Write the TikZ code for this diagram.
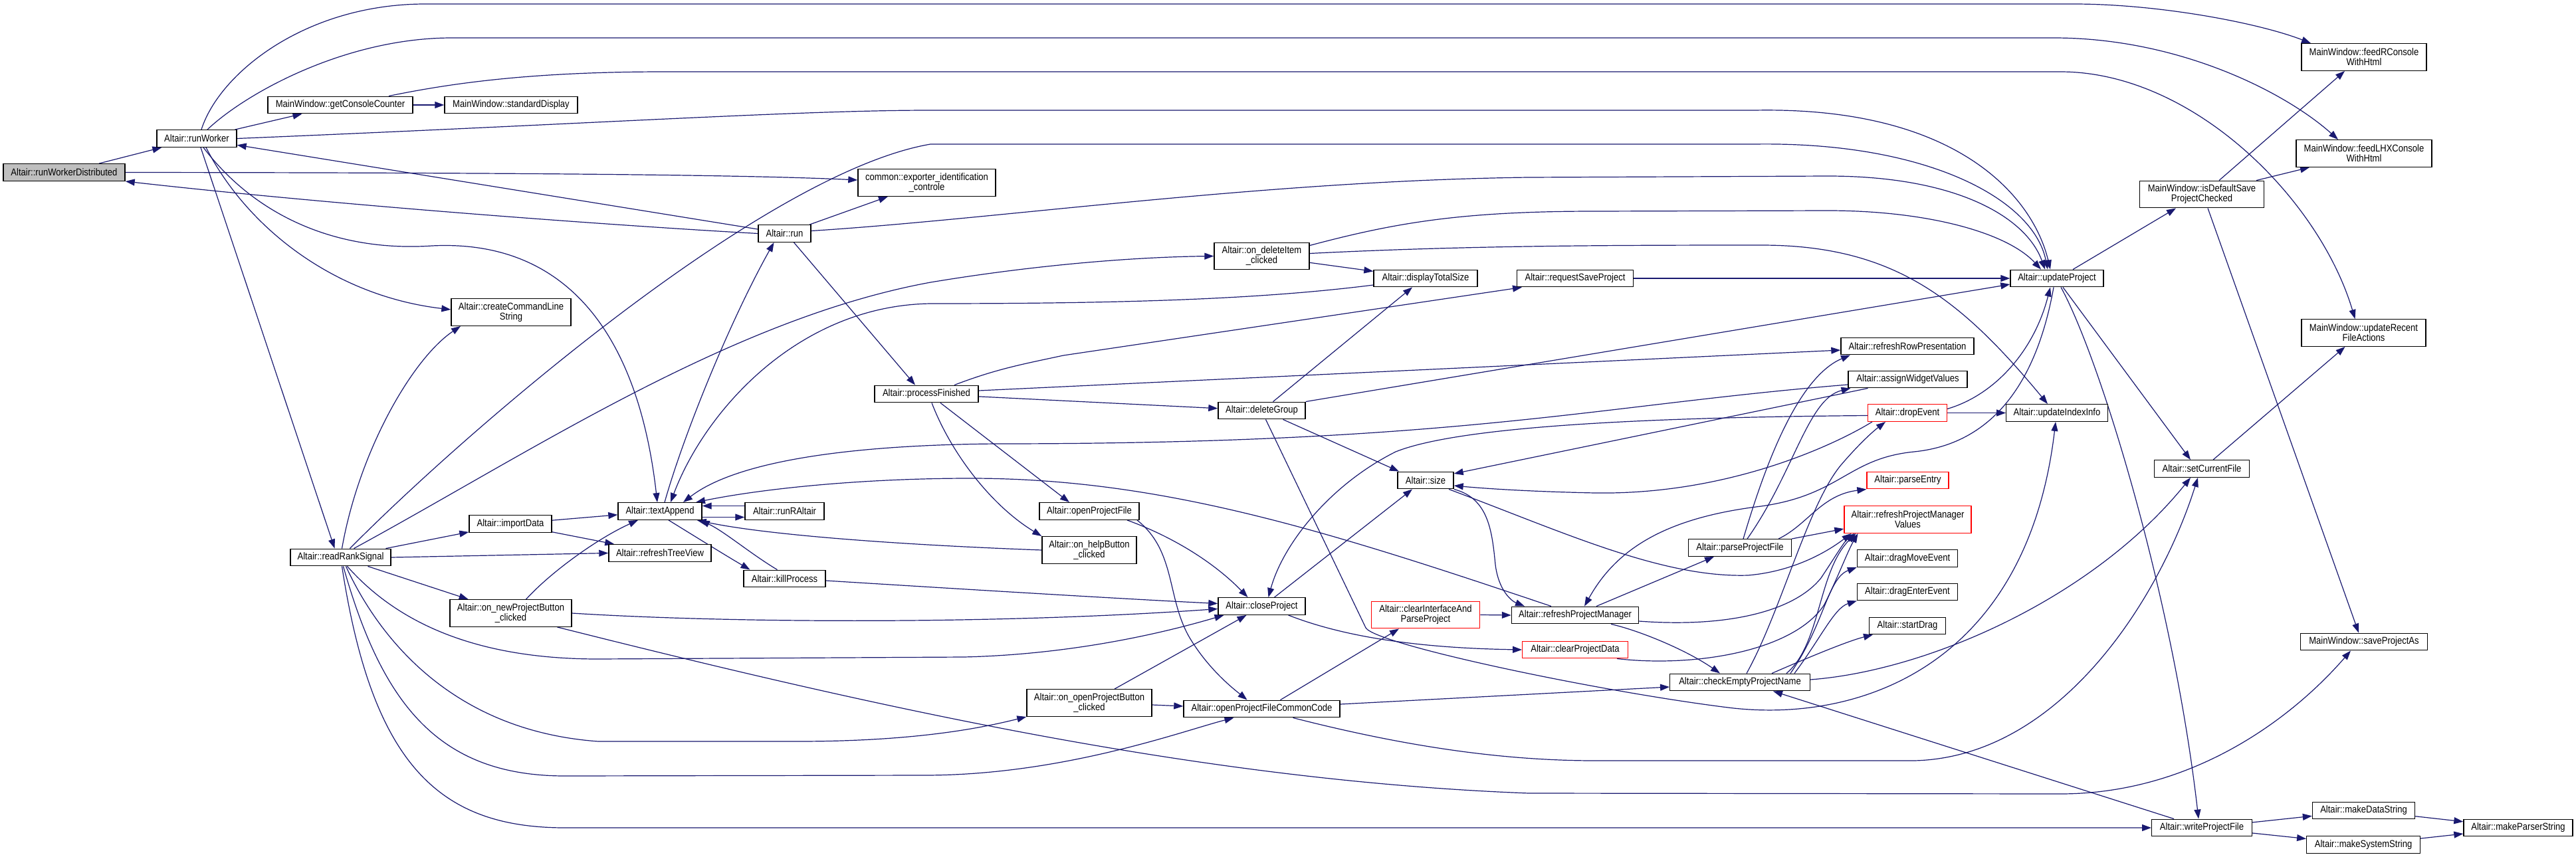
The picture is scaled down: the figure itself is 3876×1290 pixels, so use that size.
\documentclass[tikz,border=0pt]{standalone}
\usepackage{fontspec}
\setmainfont{Liberation Sans}[FakeStretch=0.87]
\usetikzlibrary{arrows.meta}
\definecolor{eblue}{HTML}{191970}
\definecolor{rootgray}{HTML}{BFBFBF}
\pgfdeclarelayer{background}
\pgfsetlayers{background,main}
\begin{document}
\begin{tikzpicture}[x=1pt,y=-1pt,
  box/.style={draw=black, fill=white, line width=1.4pt, inner sep=0pt, minimum height=25.5pt, align=center,
    font=\fontsize{15}{15}\selectfont},
  box2/.style={box, minimum height=40.5pt},
  redbox/.style={draw=red},
  cg/.style={draw=eblue, line width=1.2pt, -{Triangle[length=14pt,width=10pt]}}]
\useasboundingbox (0,0) rectangle (3876,1290);
% ---------- nodes ----------
\node[box, minimum width=183pt, fill=rootgray] (rWD) at (96.5,259.5) {Altair::runWorkerDistributed};
\node[box, minimum width=120pt] (rW) at (296,208.5) {Altair::runWorker};
\node[box, minimum width=218pt] (gCC) at (512,158) {MainWindow::getConsoleCounter};
\node[box, minimum width=200pt] (sD) at (769,158) {MainWindow::standardDisplay};
\node[box2, minimum width=180pt] (cCL) at (769,470) {Altair::createCommandLine\\String};
\node[box, minimum width=151pt] (rRS) at (512.5,839) {Altair::readRankSignal};
\node[box, minimum width=124pt] (importData) at (768,788.5) {Altair::importData};
\node[box2, minimum width=183pt] (onNewPB) at (768.5,923) {Altair::on\_newProjectButton\\\_clicked};
\node[box, minimum width=126pt] (textAppend) at (993,769.5) {Altair::textAppend};
\node[box, minimum width=154pt] (refreshTreeView) at (993,832.5) {Altair::refreshTreeView};
\node[box2, minimum width=207pt] (exporter) at (1394.5,275) {common::exporter\_identification\\\_controle};
\node[box, minimum width=79pt] (run) at (1180.5,351.5) {Altair::run};
\node[box, minimum width=119pt] (runRAltair) at (1180.5,769.5) {Altair::runRAltair};
\node[box, minimum width=123pt] (killProcess) at (1180.5,871) {Altair::killProcess};
\node[box, minimum width=156pt] (processFinished) at (1394,593) {Altair::processFinished};
\node[box, minimum width=150pt] (openProjectFile) at (1639,769.5) {Altair::openProjectFile};
\node[box2, minimum width=142pt] (onHelp) at (1639,828) {Altair::on\_helpButton\\\_clicked};
\node[box2, minimum width=188pt] (onOpenPB) at (1639,1058) {Altair::on\_openProjectButton\\\_clicked};
\node[box2, minimum width=143pt] (onDelete) at (1898.5,385.5) {Altair::on\_deleteItem\\\_clicked};
\node[box, minimum width=131pt] (deleteGroup) at (1898.5,618) {Altair::deleteGroup};
\node[box, minimum width=131pt] (closeProject) at (1898.5,912.5) {Altair::closeProject};
\node[box, minimum width=235pt] (oPFCC) at (1898.5,1067) {Altair::openProjectFileCommonCode};
\node[box, minimum width=156pt] (displayTotalSize) at (2145,419) {Altair::displayTotalSize};
\node[box, minimum width=84pt] (size) at (2145,723) {Altair::size};
\node[box2, redbox, minimum width=163.5pt] (cIAPP) at (2145,925.5) {Altair::clearInterfaceAnd\\ParseProject};
\node[box, minimum width=174.5pt] (requestSaveProject) at (2370,419) {Altair::requestSaveProject};
\node[box, minimum width=191pt] (rPM) at (2370,926) {Altair::refreshProjectManager};
\node[box, redbox, minimum width=158.5pt] (cPD) at (2370,978) {Altair::clearProjectData};
\node[box, minimum width=154.5pt] (pPF) at (2618,824.5) {Altair::parseProjectFile};
\node[box, minimum width=210.5pt] (cEPN) at (2618,1027) {Altair::checkEmptyProjectName};
\node[box, minimum width=200pt] (rRP) at (2870,521) {Altair::refreshRowPresentation};
\node[box, minimum width=179pt] (aWV) at (2870.5,571) {Altair::assignWidgetValues};
\node[box, redbox, minimum width=118.5pt] (dropEvent) at (2870,621.5) {Altair::dropEvent};
\node[box, redbox, minimum width=123pt] (parseEntry) at (2870.5,723) {Altair::parseEntry};
\node[box2, redbox, minimum width=191pt] (rPMV) at (2870.5,782) {Altair::refreshProjectManager\\Values};
\node[box, minimum width=151pt] (dME) at (2870,840.5) {Altair::dragMoveEvent};
\node[box, minimum width=151pt] (dEE) at (2870,891) {Altair::dragEnterEvent};
\node[box, minimum width=115pt] (startDrag) at (2870,942) {Altair::startDrag};
\node[box, minimum width=140pt] (updateProject) at (3095,419) {Altair::updateProject};
\node[box, minimum width=152.5pt] (updateIndexInfo) at (3095,621.5) {Altair::updateIndexInfo};
\node[box2, minimum width=187pt] (isDefaultSave) at (3313,292.5) {MainWindow::isDefaultSave\\ProjectChecked};
\node[box, minimum width=143pt] (setCurrentFile) at (3313,705.5) {Altair::setCurrentFile};
\node[box, minimum width=150.5pt] (writeProjectFile) at (3313,1246) {Altair::writeProjectFile};
\node[box2, minimum width=188pt] (feedR) at (3557,86) {MainWindow::feedRConsole\\WithHtml};
\node[box2, minimum width=204pt] (feedLHX) at (3557,231) {MainWindow::feedLHXConsole\\WithHtml};
\node[box2, minimum width=187pt] (updateRecent) at (3556.5,501) {MainWindow::updateRecent\\FileActions};
\node[box, minimum width=190.5pt] (saveProjectAs) at (3557,966) {MainWindow::saveProjectAs};
\node[box, minimum width=154pt] (mDS) at (3556.5,1220) {Altair::makeDataString};
\node[box, minimum width=170.5pt] (mSS) at (3556,1271.5) {Altair::makeSystemString};
\node[box, minimum width=164pt] (mPS) at (3789,1246) {Altair::makeParserString};
% ---------- edges ----------
\begin{pgfonlayer}{background}
\fill[white] (0,0) rectangle (3876,1290);
\draw[cg] (rWD) -- (rW);
\draw[cg] (rWD.east) .. controls (700,260) and (1100,262) .. ([yshift=4pt]exporter.west);
\draw[cg] (run.west) .. controls (900,338) and (500,308) .. (rWD.south east);
\draw[cg] (run) -- (rW);
\draw[cg] (rW) -- (gCC);
\draw[cg] (gCC) -- (sD);
\draw[cg] ([xshift=7pt]rW.north) .. controls (330,110) and (460,6) .. (640,6) -- (3120,6) .. controls (3250,6) and (3400,35) .. ([xshift=-80pt]feedR.north);
\draw[cg] ([xshift=16pt]rW.north) .. controls (370,140) and (520,57) .. (680,57) -- (3090,57) .. controls (3280,57) and (3440,140) .. ([xshift=-39pt]feedLHX.north);
\draw[cg] ([xshift=73pt]gCC.north) .. controls (680,125) and (800,108) .. (1000,108) -- (3100,108) .. controls (3300,108) and (3490,300) .. ([xshift=-13pt]updateRecent.north);
\draw[cg] (rW.east) .. controls (900,186) and (1200,166) .. (1400,166) -- (2640,166) .. controls (2950,160) and (3060,300) .. ([xshift=-10pt]updateProject.north);
\draw[cg] ([xshift=10pt]rW.south) .. controls (380,320) and (500,380) .. (650,370) .. controls (850,360) and (960,500) .. ([xshift=-4pt]textAppend.north);
\draw[cg] ([xshift=14pt]rW.south) .. controls (370,340) and (500,445) .. ([yshift=4pt]cCL.west);
\draw[cg] ([xshift=6pt]rW.south) -- ([xshift=-9pt]rRS.north);
\draw[cg] (run) -- (exporter);
\draw[cg] ([yshift=4pt]run.east) .. controls (1500,330) and (1900,272) .. (2300,267) -- (2750,265) .. controls (2950,265) and (3050,330) .. ([xshift=-18pt]updateProject.north);
\draw[cg] ([xshift=14pt]rRS.north) .. controls (700,650) and (1150,260) .. (1400,217) -- (2640,217) .. controls (2900,213) and (3060,300) .. ([xshift=-14pt]updateProject.north);
\draw[cg] ([xshift=2pt]rRS.north) .. controls (540,680) and (620,540) .. ([xshift=-76pt]cCL.south);
\draw[cg] ([xshift=20pt]rRS.north) .. controls (800,680) and (1100,480) .. (1400,425) .. controls (1550,400) and (1700,387) .. (onDelete.west);
\draw[cg] (rRS) -- (importData);
\draw[cg] (rRS.east) -- (refreshTreeView.west);
\draw[cg] (rRS) -- (onNewPB);
\draw[cg] ([xshift=10pt]rRS.south) .. controls (600,940) and (720,992) .. (900,992) -- (1450,989) .. controls (1620,985) and (1760,950) .. ([xshift=-57pt]closeProject.south);
\draw[cg] ([xshift=8pt]rRS.south) .. controls (570,960) and (680,1100) .. (900,1116) -- (1200,1116) .. controls (1380,1116) and (1480,1095) .. (onOpenPB.south west);
\draw[cg] ([xshift=4pt]rRS.south) .. controls (575,1060) and (660,1168) .. (850,1168) -- (1390,1167) .. controls (1600,1167) and (1780,1100) .. ([xshift=-42pt]oPFCC.south);
\draw[cg] ([xshift=2pt]rRS.south) .. controls (560,1150) and (660,1246) .. (850,1246) -- (writeProjectFile.west);
\draw[cg] (importData) -- (textAppend);
\draw[cg] (importData) -- (refreshTreeView);
\draw[cg] ([xshift=23pt]onNewPB.north) .. controls (830,860) and (900,810) .. ([xshift=-33pt]textAppend.south);
\draw[cg] (onNewPB.east) .. controls (1100,938) and (1500,940) .. ([yshift=-4pt]closeProject.west);
\draw[cg] ([xshift=70pt]onNewPB.south) .. controls (1300,1060) and (1800,1175) .. (2300,1194) -- (3100,1195) .. controls (3300,1195) and (3450,1080) .. ([xshift=-20pt]saveProjectAs.south);
\draw[cg] ([xshift=7pt]textAppend.north) .. controls (1030,650) and (1100,480) .. ([xshift=-16pt]run.south);
\draw[cg] ([yshift=-10pt]displayTotalSize.west) .. controls (1900,450) and (1700,457) .. (1400,457) .. controls (1200,460) and (1060,620) .. ([xshift=16pt]textAppend.north);
\draw[cg] ([yshift=-8pt]aWV.west) .. controls (2400,610) and (2200,668) .. (1500,668) .. controls (1250,670) and (1100,700) .. ([xshift=35pt]textAppend.north);
\draw[cg] ([xshift=-36pt]rPM.north) .. controls (2000,800) and (1750,720) .. (1460,720) .. controls (1300,720) and (1150,735) .. ([xshift=54pt]textAppend.north);
\draw[cg] ([yshift=8pt]runRAltair.west) -- ([yshift=8pt]textAppend.east);
\draw[cg] ([yshift=-9pt]textAppend.east) -- ([yshift=-9pt]runRAltair.west);
\draw[cg] ([xshift=13pt]textAppend.south) .. controls (1050,810) and (1090,835) .. ([xshift=-52pt]killProcess.north);
\draw[cg] ([xshift=-11pt]killProcess.north) .. controls (1130,834) and (1090,800) .. ([xshift=-3pt]textAppend.south east);
\draw[cg] (onHelp.west) .. controls (1350,820) and (1150,805) .. ([xshift=-8pt]textAppend.south east);
\draw[cg] ([yshift=-3pt]killProcess.east) .. controls (1500,890) and (1700,902) .. ([yshift=4pt]closeProject.west);
\draw[cg] ([xshift=42pt]processFinished.north) .. controls (1500,555) and (1540,548) .. (1600,535) -- ([xshift=-80pt]requestSaveProject.south);
\draw[cg] ([yshift=5pt]processFinished.east) -- ([yshift=-6pt]rRP.west);
\draw[cg] (processFinished) -- (deleteGroup);
\draw[cg] ([xshift=21pt]processFinished.south) -- ([xshift=-30pt]openProjectFile.north);
\draw[cg] ([xshift=8pt]processFinished.south) .. controls (1430,680) and (1490,760) .. (onHelp.north west);
\draw[cg] ([xshift=14pt]run.south) -- ([xshift=-17pt]processFinished.north);
\draw[cg] (onDelete) -- (displayTotalSize);
\draw[cg] ([yshift=16pt]onDelete.east) .. controls (2100,335) and (2200,318) .. (2400,318) -- (2750,317) .. controls (2900,317) and (3020,350) .. ([xshift=-24pt]updateProject.north);
\draw[cg] ([yshift=4pt]onDelete.east) .. controls (2200,370) and (2400,369) .. (2650,369) .. controls (2850,369) and (2950,450) .. ([xshift=-14pt]updateIndexInfo.north);
\draw[cg] (requestSaveProject.east) -- (updateProject.west);
\draw[cg] ([xshift=17pt]deleteGroup.north) -- ([xshift=-20pt]displayTotalSize.south);
\draw[cg] (deleteGroup.north east) -- ([yshift=-9pt]updateProject.west);
\draw[cg] ([xshift=32pt]deleteGroup.south) -- ([xshift=-40pt]size.north);
\draw[cg] ([xshift=6pt]deleteGroup.south) -- (2055,945) .. controls (2070,970) and (2400,1040) .. (2600,1065) .. controls (2800,1090) and (3050,1000) .. ([xshift=-2pt]updateIndexInfo.south);
\draw[cg] ([xshift=19pt]closeProject.north) -- ([xshift=-20pt]size.south);
\draw[cg] ([xshift=40pt]closeProject.south) .. controls (2000,950) and (2100,975) .. (cPD.west);
\draw[cg] ([yshift=-4pt]dropEvent.west) .. controls (2500,628) and (2200,640) .. (2100,680) .. controls (2000,730) and (1930,820) .. ([xshift=10pt]closeProject.north);
\draw[cg] ([xshift=-53pt]dropEvent.south) .. controls (2760,670) and (2600,745) .. (2400,742) .. controls (2300,740) and (2230,735) .. ([yshift=-8pt]size.east);
\draw[cg] ([xshift=-60pt]aWV.south) -- ([yshift=10pt]size.east);
\draw[cg] (dropEvent.east) -- (updateIndexInfo.west);
\draw[cg] ([yshift=6pt]dropEvent.east) .. controls (3000,595) and (3060,530) .. ([xshift=-10pt]updateProject.south);
\draw[cg] ([xshift=-5pt]updateProject.south) .. controls (3060,600) and (2980,670) .. (2880,680) .. controls (2780,690) and (2770,745) .. (2650,762) .. controls (2500,780) and (2430,830) .. ([xshift=14pt]rPM.north);
\draw[cg] (size.south east) .. controls (2240,750) and (2245,800) .. (2250,850) .. controls (2255,890) and (2275,905) .. ([xshift=-76pt]rPM.north);
\draw[cg] ([xshift=35pt]size.south) .. controls (2350,800) and (2500,870) .. (2630,866) .. controls (2700,860) and (2750,830) .. ([xshift=-85pt]rPMV.south);
\draw[cg] (cIAPP.east) -- (rPM.west);
\draw[cg] ([xshift=28pt]oPFCC.north) -- ([xshift=-40pt]cIAPP.south);
\draw[cg] ([yshift=7pt]oPFCC.east) -- ([yshift=-7pt]cEPN.west);
\draw[cg] ([xshift=47pt]oPFCC.south) .. controls (2100,1120) and (2250,1145) .. (2400,1145) -- (2880,1145) .. controls (3100,1140) and (3250,900) .. ([xshift=-6pt]setCurrentFile.south);
\draw[cg] ([xshift=57pt]openProjectFile.south) .. controls (1770,810) and (1830,850) .. ([xshift=-21pt]closeProject.north);
\draw[cg] ([xshift=72pt]openProjectFile.south) .. controls (1770,830) and (1755,900) .. (1790,960) .. controls (1820,1010) and (1860,1040) .. ([xshift=-22pt]oPFCC.north);
\draw[cg] ([xshift=38pt]onOpenPB.north) -- ([xshift=-23pt]closeProject.south);
\draw[cg] ([yshift=-3pt]onOpenPB.east) -- ([yshift=4pt]oPFCC.west);
\draw[cg] ([xshift=32pt]rPM.north) -- ([xshift=-39pt]pPF.south);
\draw[cg] ([xshift=54pt]rPM.south) .. controls (2470,950) and (2540,980) .. ([xshift=-30pt]cEPN.north);
\draw[cg] ([yshift=-9pt]rPM.east) .. controls (2600,945) and (2700,920) .. (2740,870) .. controls (2760,840) and (2775,815) .. ([xshift=-80pt]rPMV.south);
\draw[cg] ([xshift=63pt]cPD.south) .. controls (2550,1005) and (2700,980) .. (2745,910) .. controls (2765,870) and (2780,830) .. ([xshift=-75pt]rPMV.south);
\draw[cg] ([xshift=5pt]pPF.north) .. controls (2650,720) and (2700,570) .. ([xshift=-86pt]rRP.south);
\draw[cg] ([xshift=11pt]pPF.north) .. controls (2700,710) and (2720,600) .. ([xshift=-86pt]aWV.south);
\draw[cg] ([xshift=58pt]pPF.north) .. controls (2720,790) and (2740,745) .. (parseEntry.south west);
\draw[cg] (pPF.north east) -- ([yshift=-14pt]rPMV.west);
\draw[cg] ([xshift=10pt]cEPN.north) .. controls (2680,920) and (2720,760) .. (2770,700) .. controls (2800,665) and (2820,648) .. ([xshift=-33pt]dropEvent.south);
\draw[cg] ([xshift=70pt]cEPN.north) .. controls (2740,970) and (2735,860) .. ([xshift=-78pt]rPMV.south);
\draw[cg] ([xshift=76pt]cEPN.north) .. controls (2745,940) and (2750,870) .. (dME.south west);
\draw[cg] ([xshift=82pt]cEPN.north) .. controls (2740,960) and (2760,915) .. (dEE.south west);
\draw[cg] ([xshift=48pt]cEPN.north) .. controls (2720,990) and (2780,965) .. ([xshift=-52pt]startDrag.south);
\draw[cg] ([yshift=4pt]cEPN.east) .. controls (2900,1010) and (3150,900) .. ([xshift=-17pt]setCurrentFile.south);
\draw[cg] ([xshift=-42pt]writeProjectFile.north) -- ([xshift=50pt]cEPN.south);
\draw[cg] ([xshift=24pt]updateProject.north) -- ([xshift=-39pt]isDefaultSave.south);
\draw[cg] ([xshift=9pt]updateProject.south) -- ([xshift=-17pt]setCurrentFile.north);
\draw[cg] ([xshift=6pt]updateProject.south) .. controls (3160,540) and (3270,900) .. ([xshift=-5pt]writeProjectFile.north);
\draw[cg] ([xshift=26pt]isDefaultSave.north) -- ([xshift=-29pt]feedR.south);
\draw[cg] ([xshift=82pt]isDefaultSave.north) -- ([xshift=-82pt]feedLHX.south);
\draw[cg] ([xshift=9pt]isDefaultSave.south) -- ([xshift=-8pt]saveProjectAs.north);
\draw[cg] ([xshift=17pt]setCurrentFile.north) -- ([xshift=-28pt]updateRecent.south);
\draw[cg] (writeProjectFile) -- (mDS);
\draw[cg] (writeProjectFile) -- (mSS);
\draw[cg] (mDS) -- (mPS);
\draw[cg] (mSS) -- (mPS);
\end{pgfonlayer}
\end{tikzpicture}
\end{document}
